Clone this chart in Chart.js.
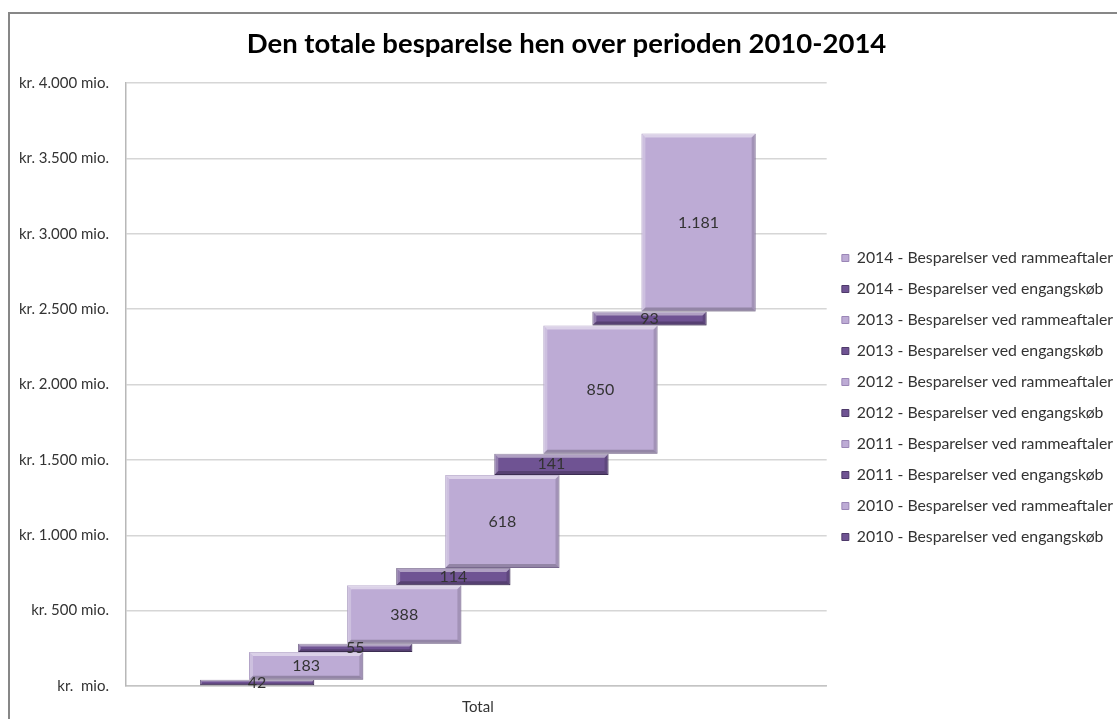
<!DOCTYPE html>
<html lang="da">
<head>
<meta charset="utf-8">
<title>Den totale besparelse hen over perioden 2010-2014</title>
<script src="https://cdn.jsdelivr.net/npm/chart.js@4.4.1/dist/chart.umd.min.js"></script>
<style>
  html, body { margin: 0; padding: 0; background: #fff; overflow: hidden; }
  #ramme { position: absolute; left: 8px; top: 12px; border-left: 2px solid #878787; border-top: 2px solid #878787; }
  canvas { display: block; }
</style>
</head>
<body>
<div id="ramme"><canvas id="grafik" width="1113" height="705"></canvas></div>
<script>
// Data (mio. kr.)
const aar = ['2010', '2011', '2012', '2013', '2014'];
const engangskoeb = [42, 55, 114, 141, 93];         // Besparelser ved engangskøb
const rammeaftaler = [183, 388, 618, 850, 1181];    // Besparelser ved rammeaftaler
const kategori = 'Total';                            // eneste kategori på x-aksen
const yAkseVaerdier = [0, 500, 1000, 1500, 2000, 2500, 3000, 3500, 4000]; // y-aksens mærker

const lysFarve = '#bdabd5';   // rammeaftaler
const lysKant = '#9a86b6';
const moerkFarve = '#6f5393'; // engangskøb
const moerkKant = '#4e3a6a';
const skrift = "Lato, 'Open Sans', sans-serif";

// Tal med punktum som tusindtalsseparator
function tal(v) {
  return String(v).replace(/\B(?=(\d{3})+(?!\d))/g, '.');
}

// Byg serierne: engangskøb og rammeaftaler skiftevis, hver bjælke starter hvor den forrige slutter
const serier = [];
let sum = 0;
aar.forEach((a, i) => {
  [['engangskøb', engangskoeb[i], moerkFarve, moerkKant],
   ['rammeaftaler', rammeaftaler[i], lysFarve, lysKant]].forEach(([navn, v, farve, kant]) => {
    const nr = serier.length;
    serier.push({
      label: a + ' - Besparelser ved ' + navn,
      data: [{ x: nr, y: [sum, sum + v] }],
      vaerdi: v,
      backgroundColor: farve,
      borderColor: kant,
      borderWidth: 1,
      borderSkipped: false,
      grouped: false,
      categoryPercentage: 1,
      barPercentage: 2.33
    });
    sum += v;
  });
});

function polygon(ctx, punkter, farve) {
  ctx.beginPath();
  ctx.moveTo(punkter[0][0], punkter[0][1]);
  punkter.slice(1).forEach(p => ctx.lineTo(p[0], p[1]));
  ctx.closePath();
  ctx.fillStyle = farve;
  ctx.fill();
}

// Skråkanter (bevel) og værdietiketter på bjælkerne
const bjaelkePynt = {
  id: 'bjaelkePynt',
  afterDatasetsDraw(chart) {
    const ctx = chart.ctx;
    const kasser = [];
    ctx.save();
    chart.data.datasets.forEach((ds, i) => {
      chart.getDatasetMeta(i).data.forEach(bar => {
        const { x, y, base, width } = bar.getProps(['x', 'y', 'base', 'width'], true);
        const l = x - width / 2, r = x + width / 2;
        const t = Math.min(y, base), b = Math.max(y, base);
        const k = Math.min(4, (b - t) / 3);
        polygon(ctx, [[l, t], [r, t], [r - k, t + k], [l + k, t + k]], 'rgba(255,255,255,0.45)');
        polygon(ctx, [[l, t], [l + k, t + k], [l + k, b - k], [l, b]], 'rgba(255,255,255,0.25)');
        polygon(ctx, [[r, t], [r, b], [r - k, b - k], [r - k, t + k]], 'rgba(0,0,0,0.14)');
        polygon(ctx, [[l, b], [r, b], [r - k, b - k], [l + k, b - k]], 'rgba(0,0,0,0.22)');
        kasser.push({ x, midt: (t + b) / 2, tekst: tal(ds.vaerdi) });
      });
    });
    ctx.fillStyle = '#333';
    ctx.font = '16px ' + skrift;
    ctx.textAlign = 'center';
    ctx.textBaseline = 'middle';
    kasser.forEach(k => ctx.fillText(k.tekst, k.x, k.midt));
    ctx.restore();
  }
};

new Chart(document.getElementById('grafik'), {
  type: 'bar',
  data: { datasets: serier },
  plugins: [bjaelkePynt],
  options: {
    responsive: false,
    animation: false,
    layout: { padding: 0 },
    plugins: {
      tooltip: { enabled: false },
      title: {
        display: true,
        text: 'Den totale besparelse hen over perioden 2010-2014',
        color: '#000',
        font: { family: skrift, size: 27.5, weight: 'bold', lineHeight: 1.2 },
        padding: { top: 13.5, bottom: 22.5 }
      },
      legend: {
        position: 'right',
        reverse: true,
        maxWidth: 400,
        title: { display: true, text: '', font: { size: 10, lineHeight: 1.2 }, padding: { top: 50, bottom: 0 } },
        labels: {
          boxWidth: 7,
          boxHeight: 7,
          padding: 15.2,
          color: '#333',
          font: { family: skrift, size: 15.8 }
        }
      }
    },
    scales: {
      x: {
        type: 'linear',
        offset: false,
        min: -2.673,
        max: 11.612,
        afterBuildTicks: s => { s.ticks = [{ value: (serier.length - 1) / 2 }]; },
        afterFit: s => { s.height = 33; },
        ticks: {
          callback: () => kategori,
          padding: 12,
          color: '#333',
          font: { family: skrift, size: 15 }
        },
        grid: { display: false, drawTicks: false },
        border: { display: true, color: '#c4c4c4', width: 1.5 }
      },
      y: {
        min: 0,
        max: 4000,
        afterBuildTicks: s => { s.ticks = yAkseVaerdier.map(v => ({ value: v })); },
        afterFit: s => { s.width = 116; },
        ticks: {
          callback: v => 'kr. ' + (v === 0 ? '' : tal(v)) + ' mio.',
          padding: 17,
          color: '#333',
          font: { family: skrift, size: 15 }
        },
        grid: { color: '#d6d6d6', lineWidth: 1.5, drawTicks: false },
        border: { display: true, color: '#b8b8b8', width: 1.5 }
      }
    }
  }
});
</script>
</body>
</html>
